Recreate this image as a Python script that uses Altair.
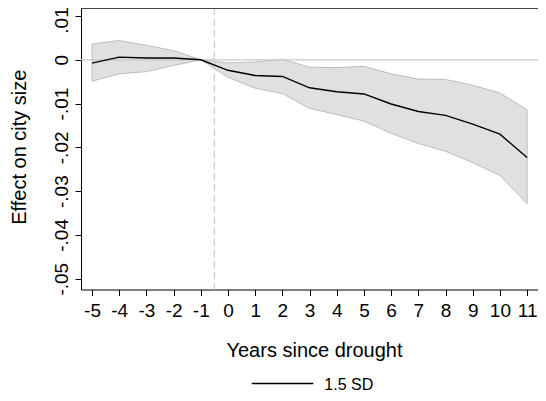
import altair as alt
import pandas as pd

years = list(range(-5, 12))
coef = [-0.00075, 0.0006, 0.0004, 0.0004, 0.0, -0.0024, -0.0036, -0.0038, -0.0064,
        -0.0073, -0.0078, -0.0101, -0.0118, -0.0127, -0.0147, -0.0170, -0.0223]
upper = [0.0036, 0.0044, 0.0033, 0.0021, 0.0, -0.0007, -0.0005, 0.00015, -0.0017,
         -0.0018, -0.0015, -0.0032, -0.0044, -0.0045, -0.0058, -0.0076, -0.0114]
lower = [-0.0049, -0.0032, -0.0027, -0.0013, 0.0, -0.0040, -0.0065, -0.0077, -0.0111,
         -0.0125, -0.0140, -0.0168, -0.0191, -0.0209, -0.0235, -0.0264, -0.0329]
y_ticks = [-0.05, -0.04, -0.03, -0.02, -0.01, 0.0, 0.01]
legend_label = "1.5 SD"
x_title = "Years since drought"
y_title = "Effect on city size"

df = pd.DataFrame({"year": years, "coef": coef, "upper": upper, "lower": lower})

FONT = "Liberation Sans"
W, H = 457, 281.5

xs = alt.Scale(domain=[-5.405, 11.40], nice=False, zero=False)
ys = alt.Scale(domain=[-0.05247, 0.01183], nice=False, zero=False)

xaxis = alt.Axis(values=years, labelExpr="'' + datum.value", title=x_title,
                 grid=False, domainColor="black", tickColor="black", tickSize=6,
                 labelFont=FONT, labelFontSize=19, labelColor="black",
                 labelBaseline="alphabetic", labelPadding=21, labelFlush=False,
                 labelOverlap=False, labelBound=False,
                 titleFont=FONT, titleFontSize=20, titleFontWeight="normal",
                 titleColor="black", titleBaseline="alphabetic", titleX=233,
                 titleY=67.2, titleAlign="center")
yaxis = alt.Axis(values=y_ticks,
                 labelExpr="datum.value < -0.001 ? '-.0' + round(-datum.value*100) : (datum.value > 0.001 ? '.0' + round(datum.value*100) : '0')",
                 title=y_title, grid=False, domainColor="black", tickColor="black",
                 tickSize=6, labelFont=FONT, labelFontSize=19, labelColor="black",
                 labelAngle=270, labelAlign="center", labelBaseline="alphabetic",
                 labelPadding=8, labelFlush=False, labelOverlap=False,
                 labelOffset={"condition": {"test": "datum.value > 0.005", "value": 4}, "value": 0},
                 titleFont=FONT, titleFontSize=20, titleFontWeight="normal",
                 titleColor="black", titleAngle=270, titleBaseline="alphabetic",
                 titleAlign="center", titleX=-56, titleY=138.7)

base = alt.Chart(df)

band = base.mark_area(fill="#e0e0e0", stroke="#bdbdbd", strokeWidth=1).encode(
    x=alt.X("year:Q", scale=xs, axis=xaxis),
    y=alt.Y("upper:Q", scale=ys, axis=yaxis),
    y2="lower:Q",
)

zero = alt.Chart(pd.DataFrame({"z": [0.0]})).mark_rule(
    color="#c8c8c8", strokeWidth=1.3).encode(y=alt.Y("z:Q", scale=ys, axis=yaxis))

vline = alt.Chart(pd.DataFrame({"v": [-0.5]})).mark_rule(
    color="#cfcfcf", strokeWidth=1.3, strokeDash=[7, 4]).encode(
    x=alt.X("v:Q", scale=xs, axis=xaxis))

line = base.mark_line(color="black", strokeWidth=1.4).encode(
    x=alt.X("year:Q", scale=xs, axis=xaxis), y=alt.Y("coef:Q", scale=ys, axis=yaxis))

top = alt.Chart(pd.DataFrame({"a": [0]})).mark_rule(color="#444", strokeWidth=1).encode(
    x=alt.value(0), x2=alt.value(W), y=alt.value(0.5))

leg_line = alt.Chart(pd.DataFrame({"a": [0]})).mark_rule(color="black", strokeWidth=1.4).encode(
    x=alt.value(170.7), x2=alt.value(232.3), y=alt.value(375.5))

leg_text = alt.Chart(pd.DataFrame({"t": [legend_label]})).mark_text(
    font=FONT, fontSize=16, align="left", baseline="alphabetic", color="black").encode(
    x=alt.value(243.3), y=alt.value(381.5), text="t:N")

chart = alt.layer(band, zero, vline, line, top, leg_line, leg_text).properties(
    width=W, height=H,
    autosize=alt.AutoSizeParams(type="none"),
    padding={"left": 73, "top": 0, "right": 0, "bottom": 103.5},
).configure_view(stroke=None).configure_axis(labelOverlap=False)

chart.save("out.html", embed_options={"renderer": "svg", "actions": False})
